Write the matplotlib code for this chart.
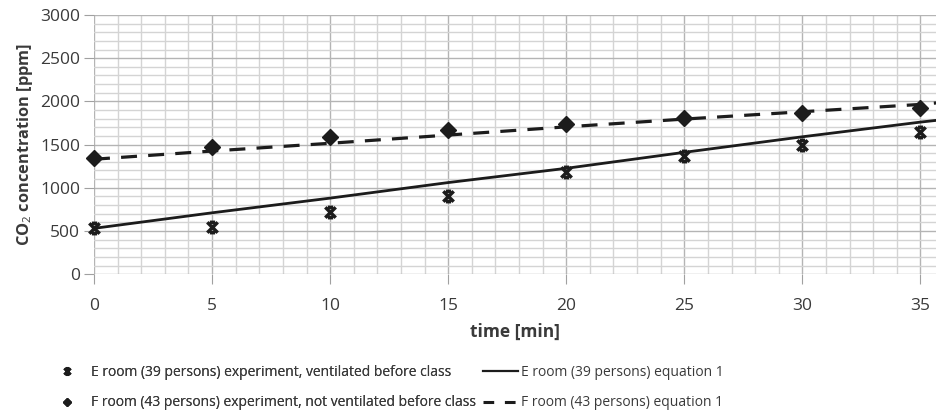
import matplotlib
matplotlib.use("Agg")
import matplotlib.pyplot as plt
from matplotlib.path import Path
from matplotlib.lines import Line2D
from matplotlib.ticker import MultipleLocator

plt.rcParams['font.family'] = ['Open Sans', 'DejaVu Sans']
plt.rcParams['mathtext.fontset'] = 'custom'
plt.rcParams['mathtext.rm'] = 'Open Sans'
plt.rcParams['mathtext.bf'] = 'Open Sans:bold'

# data
t_exp = [0, 5, 10, 15, 20, 25, 30, 35]
e_exp = [530, 540, 720, 910, 1180, 1370, 1490, 1650]
f_exp = [1340, 1475, 1590, 1665, 1735, 1805, 1865, 1920]
t_eq = [0, 5, 10, 15, 20, 25, 30, 35, 36]
e_eq = [530, 710, 880, 1060, 1225, 1410, 1590, 1760, 1790]
f_eq = [1330, 1425, 1515, 1610, 1705, 1795, 1880, 1965, 1990]

labels = ["E room (39 persons) experiment, ventilated before class",
          "F room (43 persons) experiment, not ventilated before class",
          "E room (39 persons) equation 1",
          "F room (43 persons) equation 1"]

xmark = Path([(-1, -1), (1, 1), (-1, 1), (1, -1), (-0.5, 1), (0.5, 1), (-0.5, -1), (0.5, -1)],
             [Path.MOVETO, Path.LINETO, Path.MOVETO, Path.LINETO,
              Path.MOVETO, Path.LINETO, Path.MOVETO, Path.LINETO])

ink = '#1c1c1c'
txt = '#3a3a3a'

fig = plt.figure(figsize=(9.37, 4.16), dpi=100)
ax = fig.add_axes([0.1003, 0.341, 0.8997, 0.623])

ax.set_xlim(0, 35.7)
ax.set_ylim(0, 3000)
ax.xaxis.set_major_locator(MultipleLocator(5))
ax.xaxis.set_minor_locator(MultipleLocator(1))
ax.yaxis.set_major_locator(MultipleLocator(500))
ax.yaxis.set_minor_locator(MultipleLocator(100))
ax.grid(which='major', color='#b4b4b4', lw=1.0)
ax.grid(which='minor', color='#d4d4d4', lw=1.0)
ax.set_axisbelow(True)
for s in ax.spines.values():
    s.set_visible(False)
ax.tick_params(which='major', length=7, color='#a0a0a0', labelsize=12.5, labelcolor=txt, pad=3)
ax.tick_params(which='minor', length=0)
ax.tick_params(axis='x', pad=10.3)

ax.plot(t_exp, e_exp, ls='none', marker=xmark, ms=7.5, mew=2.5, color=ink, clip_on=False)
ax.plot(t_exp, f_exp, ls='none', marker='D', ms=8.5, color=ink, clip_on=False)
ax.plot(t_eq, e_eq, ls='-', lw=2.0, color=ink)
ax.plot(t_eq, f_eq, ls=(0, (5, 3.5)), lw=2.3, color=ink)

ax.set_xlabel('time [min]', fontsize=12.5, fontweight='bold', color=txt, labelpad=6.6)
ax.set_ylabel(r'CO$_2$ concentration [ppm]', fontsize=11.8, fontweight='bold', color=txt, labelpad=4)

m1 = Line2D([], [], ls='none', marker=xmark, ms=4.5, mew=2.0, color=ink)
m2 = Line2D([], [], ls='none', marker='D', ms=4.5, color=ink)
yc = 1 - 387.5 / 416
leg1 = fig.legend([m1, m2], labels[:2], loc='center left', bbox_to_anchor=(60 / 937, yc),
                  frameon=False, fontsize=10, handlelength=1.0, handletextpad=1.2,
                  labelspacing=1.15, borderaxespad=0, borderpad=0, labelcolor=txt)
h3 = Line2D([], [], ls='-', lw=1.6, color=ink)
h4 = Line2D([], [], ls=(0, (3.5, 3.5)), lw=2.2, color=ink)
leg2 = fig.legend([h3, h4], labels[2:], loc='center left', bbox_to_anchor=(483 / 937, yc),
                  frameon=False, fontsize=10, handlelength=2.5, handletextpad=0.22,
                  labelspacing=1.15, borderaxespad=0, borderpad=0, labelcolor=txt)
fig.add_artist(leg1)

fig.savefig('out.png', dpi=100)
